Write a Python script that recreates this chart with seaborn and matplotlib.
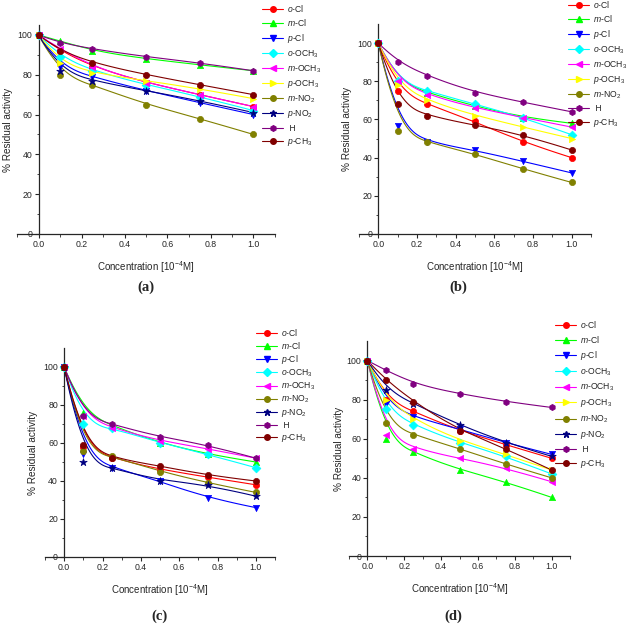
import numpy as np
import pandas as pd
import matplotlib
matplotlib.use("Agg")
import matplotlib.pyplot as plt
from matplotlib.lines import Line2D
import seaborn as sns

# ---------------- data ----------------
conc = [0.0, 0.1, 0.25, 0.5, 0.75, 1.0]

series_names = ["o-Cl", "m-Cl", "p-Cl", "o-OCH3", "m-OCH3", "p-OCH3",
                "m-NO2", "p-NO2", "H", "p-CH3"]
series_labels = [r"$\mathit{o}$-Cl", r"$\mathit{m}$-Cl", r"$\mathit{p}$-Cl",
                 r"$\mathit{o}$-OCH$_3$", r"$\mathit{m}$-OCH$_3$", r"$\mathit{p}$-OCH$_3$",
                 r"$\mathit{m}$-NO$_2$", r"$\mathit{p}$-NO$_2$", " H", r"$\mathit{p}$-CH$_3$"]
series_colors = ["#FF0000", "#00FF00", "#0000FF", "#00FFFF", "#FF00FF", "#FFFF00",
                 "#808000", "#000080", "#800080", "#800000"]
series_markers = ["o", "^", "v", "D", "<", ">", "o", "*", "h", "o"]

# panel (a)
a_o_cl = [100, 92, 84, 76, 70, 64]
a_m_cl = [100, 97, 92, 88, 85, 82]
a_p_cl = [100, 84, 79, 72, 66, 60]
a_o_och3 = [100, 89, 82, 75, 69, 62]
a_m_och3 = [100, 93, 84, 76, 70, 64]
a_p_och3 = [100, 86, 81, 77, 73, 68]
a_m_no2 = [100, 80, 75, 65, 58, 50]
a_p_no2 = [100, 82, 77, 72, 67, 61]
a_h = [100, 96, 93, 89, 86, 82]
a_p_ch3 = [100, 92, 86, 80, 75, 70]

# panel (b)  (no p-NO2)
b_o_cl = [100, 75, 68, 59, 48, 40]
b_m_cl = [100, 80, 74, 67, 61, 58]
b_p_cl = [100, 56.5, 48, 44, 38, 32]
b_o_och3 = [100, 80, 75, 68, 61, 52]
b_m_och3 = [100, 80, 73, 66, 61, 56]
b_p_och3 = [100, 78, 70, 62, 56, 50]
b_m_no2 = [100, 54, 48, 42, 34, 27]
b_h = [100, 90, 83, 74, 69, 64]
b_p_ch3 = [100, 68, 62, 57, 52, 44]

# panel (c)  (no p-OCH3)
c_o_cl = [100, 58, 52, 46, 42, 38]
c_m_cl = [100, 76, 69, 60, 54, 50]
c_p_cl = [100, 54, 47, 40, 31, 26]
c_o_och3 = [100, 70, 68, 60, 54, 47]
c_m_och3 = [100, 74, 68, 61, 57, 52]
c_m_no2 = [100, 56, 53, 45, 39, 34]
c_p_no2 = [100, 50, 47, 40, 38, 32]
c_h = [100, 74, 70, 63, 59, 52]
c_p_ch3 = [100, 59, 52, 48, 43, 40]

# panel (d)
d_o_cl = [100, 80, 74, 64, 57, 50]
d_m_cl = [100, 60, 53, 44, 38, 30]
d_p_cl = [100, 78, 71, 65, 58, 52]
d_o_och3 = [100, 75, 67, 58, 51, 42]
d_m_och3 = [100, 62, 55, 50, 45, 38]
d_p_och3 = [100, 80, 70, 59, 52, 44]
d_m_no2 = [100, 68, 62, 55, 47, 40]
d_p_no2 = [100, 85, 78, 67, 58, 51]
d_h = [100, 95, 88, 83, 79, 76]
d_p_ch3 = [100, 90, 79, 64, 55, 44]

panels = {
    "a": {"o-Cl": a_o_cl, "m-Cl": a_m_cl, "p-Cl": a_p_cl, "o-OCH3": a_o_och3,
          "m-OCH3": a_m_och3, "p-OCH3": a_p_och3, "m-NO2": a_m_no2, "p-NO2": a_p_no2,
          "H": a_h, "p-CH3": a_p_ch3},
    "b": {"o-Cl": b_o_cl, "m-Cl": b_m_cl, "p-Cl": b_p_cl, "o-OCH3": b_o_och3,
          "m-OCH3": b_m_och3, "p-OCH3": b_p_och3, "m-NO2": b_m_no2,
          "H": b_h, "p-CH3": b_p_ch3},
    "c": {"o-Cl": c_o_cl, "m-Cl": c_m_cl, "p-Cl": c_p_cl, "o-OCH3": c_o_och3,
          "m-OCH3": c_m_och3, "m-NO2": c_m_no2, "p-NO2": c_p_no2,
          "H": c_h, "p-CH3": c_p_ch3},
    "d": {"o-Cl": d_o_cl, "m-Cl": d_m_cl, "p-Cl": d_p_cl, "o-OCH3": d_o_och3,
          "m-OCH3": d_m_och3, "p-OCH3": d_p_och3, "m-NO2": d_m_no2, "p-NO2": d_p_no2,
          "H": d_h, "p-CH3": d_p_ch3},
}
panel_ymax = {"a": 105, "b": 110, "c": 110, "d": 110}

# ---------------- style ----------------
sns.set_style("ticks")
plt.rcParams["font.family"] = ["Liberation Sans", "DejaVu Sans"]
plt.rcParams["mathtext.fontset"] = "custom"
plt.rcParams["mathtext.rm"] = "Liberation Sans"
plt.rcParams["mathtext.it"] = "Liberation Sans:italic"
plt.rcParams["mathtext.bf"] = "Liberation Sans:bold"

W, H = 628, 627
fig = plt.figure(figsize=(W / 100, H / 100), dpi=100)

# axes boxes in pixels: left, right, top, bottom
boxes = {"a": (17, 275, 25, 234), "b": (359, 591, 24, 234),
         "c": (45, 275, 348, 557), "d": (349, 570, 341, 556)}
# legend: handle-left x, top y, row spacing px
legend_pos = {"a": (262, 3, 12.0), "b": (568, -1, 12.0),
              "c": (256, 327, 10.4), "d": (555, 319, 12.7)}
# right edge (px) of the rotated y label
ylabel_x = {"a": 13, "b": 352, "c": 38, "d": 344}
panel_label_pos = {"a": (146, 287), "b": (458, 287), "c": (160, 616), "d": (453, 616)}

color_map = dict(zip(series_names, series_colors))
marker_map = dict(zip(series_names, series_markers))
label_map = dict(zip(series_names, series_labels))


def bspline(xs, ys, n=120, k=3):
    """Clamped uniform B-spline using the data points as control points."""
    P = np.column_stack([xs, ys]).astype(float)
    m = len(P)
    inner = np.linspace(0, 1, m - k + 1)[1:-1]
    t = np.concatenate([np.zeros(k + 1), inner, np.ones(k + 1)])
    u = np.linspace(0, 1, n)
    u[-1] = 1 - 1e-10

    def basis(i, p, uu):
        if p == 0:
            return ((t[i] <= uu) & (uu < t[i + 1])).astype(float)
        out = np.zeros_like(uu)
        d1 = t[i + p] - t[i]
        d2 = t[i + p + 1] - t[i + 1]
        if d1 > 0:
            out += (uu - t[i]) / d1 * basis(i, p - 1, uu)
        if d2 > 0:
            out += (t[i + p + 1] - uu) / d2 * basis(i + 1, p - 1, uu)
        return out

    B = np.column_stack([basis(i, k, u) for i in range(m)])
    C = B @ P
    return C[:, 0], C[:, 1]


for key, data in panels.items():
    l, r, t, b = boxes[key]
    ax = fig.add_axes([l / W, (H - b) / H, (r - l) / W, (b - t) / H])

    curve_rows = []
    point_rows = []
    for name, vals in data.items():
        cx, cy = bspline(conc, vals)
        for i, (xx, yy) in enumerate(zip(cx, cy)):
            curve_rows.append({"series": name, "x": xx, "y": yy, "order": i})
        for xx, yy in zip(conc, vals):
            point_rows.append({"series": name, "x": xx, "y": yy})
    cdf = pd.DataFrame(curve_rows)
    pdf = pd.DataFrame(point_rows)
    names = list(data.keys())

    sns.lineplot(data=cdf, x="x", y="y", hue="series", hue_order=names,
                 palette=color_map, sort=False, estimator=None, units="series",
                 lw=0.8, legend=False, ax=ax)
    for name in names:
        sub = pdf[pdf.series == name]
        mk = marker_map[name]
        sns.scatterplot(data=sub, x="x", y="y", color=color_map[name], marker=mk,
                        s=32 if mk == "*" else 20, edgecolor=color_map[name],
                        linewidth=0.5, legend=False, ax=ax, zorder=3)

    ax.set_xlim(-0.1, 1.1)
    ax.set_ylim(0, panel_ymax[key])
    ax.spines["left"].set_position(("data", 0))
    ax.spines["top"].set_visible(False)
    ax.spines["right"].set_visible(False)
    for s in ("left", "bottom"):
        ax.spines[s].set_linewidth(0.9)
    ax.set_xticks([0.0, 0.2, 0.4, 0.6, 0.8, 1.0])
    ax.set_xticklabels(["0.0", "0.2", "0.4", "0.6", "0.8", "1.0"])
    ax.set_xticks(np.arange(-0.1, 1.11, 0.1), minor=True)
    ax.set_yticks([0, 20, 40, 60, 80, 100])
    ax.set_yticks([10, 30, 50, 70, 90], minor=True)
    ax.tick_params(axis="both", which="major", direction="out", length=3, width=0.8,
                   labelsize=6.3, pad=1.5)
    ax.tick_params(axis="both", which="minor", direction="out", length=1.8, width=0.6)
    ax.set_xlabel("Concentration [10$^{-4}$M]", fontsize=7, labelpad=7)
    ax.set_ylabel("% Residual activity", fontsize=7.2, labelpad=2)
    ax.yaxis.set_label_coords((ylabel_x[key] - l) / (r - l), 0.5)

    handles = [Line2D([0], [0], color=color_map[n], lw=0.8, marker=marker_map[n],
                      markersize=5 if marker_map[n] == "*" else 4,
                      markeredgecolor=color_map[n]) for n in names]
    labels = [label_map[n] for n in names]
    hx, hy, sp = legend_pos[key]
    fs = 6.2
    fs_px = fs * 100 / 72
    ax.legend(handles, labels, loc="upper left",
              bbox_to_anchor=(hx / W, (H - hy) / H), bbox_transform=fig.transFigure,
              frameon=False, fontsize=fs, handlelength=21 / fs_px,
              handletextpad=4 / fs_px, labelspacing=(sp - fs_px) / fs_px,
              borderpad=0, borderaxespad=0)

    px, py = panel_label_pos[key]
    fig.text(px / W, (H - py) / H, f"({key})", ha="center", va="center",
             fontsize=10.5, fontweight="bold", family="Liberation Serif")

fig.savefig("out.png", dpi=100)
